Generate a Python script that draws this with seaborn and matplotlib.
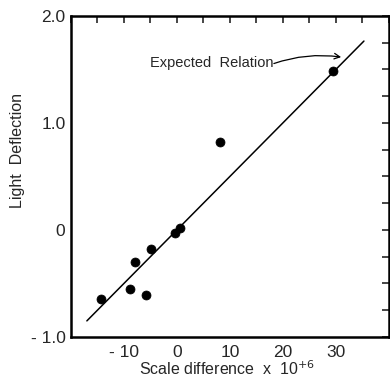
# Light deflection vs scale difference

import numpy as np
import pandas as pd
import seaborn as sns
import matplotlib.pyplot as plt
from matplotlib.ticker import MultipleLocator, FixedLocator

scale_diff = [-14.4, -8.8, -7.85, -5.85, -4.9, -0.4, 0.55, 8.2, 29.4]
deflection = [-0.645, -0.55, -0.30, -0.61, -0.18, -0.025, 0.015, 0.825, 1.485]
line_x = [-17.0, 35.3]
line_y = [-0.85, 1.765]

x_ticks = [-10, 0, 10, 20, 30]
x_labels = ['- 10', '0', '10', '20', '30']
y_ticks = [-1.0, 0.0, 1.0, 2.0]
y_labels = ['- 1.0', '0', '1.0', '2.0']

df = pd.DataFrame({'x': scale_diff, 'y': deflection})
rel = pd.DataFrame({'x': line_x, 'y': line_y})

sns.set_style('white')
plt.rcParams['font.family'] = ['Liberation Sans', 'DejaVu Sans']

fig = plt.figure(figsize=(3.9, 3.79), dpi=100)
ax = fig.add_axes([0.182, 0.111, 0.815, 0.847])

sns.lineplot(data=rel, x='x', y='y', color='black', lw=1.1, ax=ax)
sns.scatterplot(data=df, x='x', y='y', color='black', s=42, edgecolor='black', ax=ax)

ax.set_xlim(-20, 40)
ax.set_ylim(-1.0, 2.0)
ax.xaxis.set_major_locator(FixedLocator(x_ticks))
ax.set_xticklabels(x_labels)
ax.xaxis.set_minor_locator(MultipleLocator(5))
ax.yaxis.set_major_locator(FixedLocator(y_ticks))
ax.set_yticklabels(y_labels)
ax.yaxis.set_minor_locator(MultipleLocator(0.25))

ax.tick_params(which='both', direction='in', length=5, width=1.2,
               top=True, right=True, labelsize=12.5, pad=4)
ax.tick_params(axis='x', pad=6)
for s in ax.spines.values():
    s.set_linewidth(1.8)
    s.set_color('black')

ax.set_xlabel('Scale difference  x  10$^{+6}$', fontsize=11.5, va='center')
ax.xaxis.set_label_coords(0.49, -0.098)
ax.set_ylabel('Light  Deflection', fontsize=11.5)
ax.yaxis.set_label_coords(-0.145, 0.58)

ax.text(-5.0, 1.56, 'Expected  Relation', fontsize=10.5, va='center', ha='left')
ax.annotate('', xy=(31.0, 1.615), xytext=(18.3, 1.555),
            arrowprops=dict(arrowstyle='->', color='black', lw=0.9,
                            connectionstyle='arc3,rad=-0.12',
                            shrinkA=0, shrinkB=0))

fig.savefig('out.png', dpi=100)
